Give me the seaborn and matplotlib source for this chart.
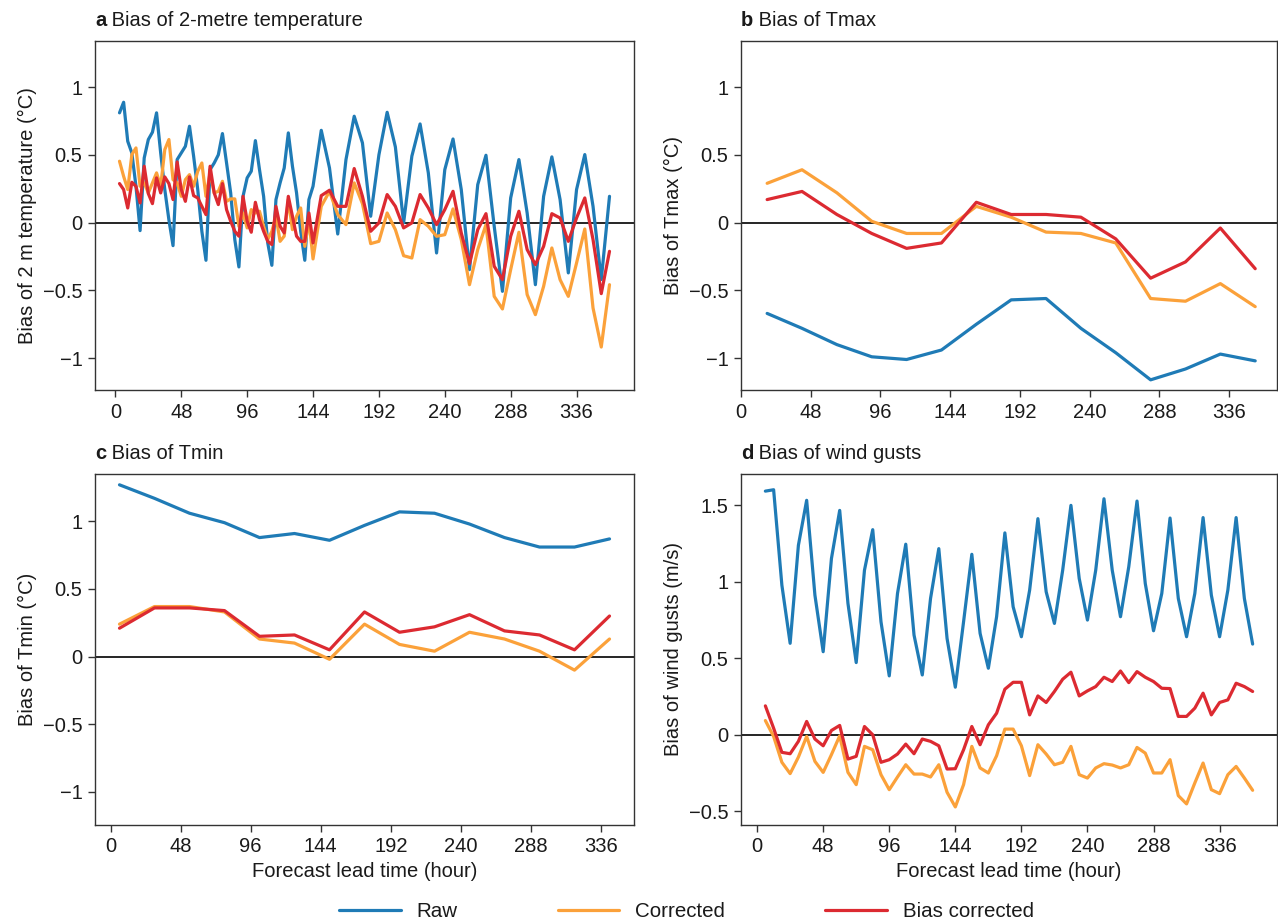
import numpy as np
import pandas as pd
import seaborn as sns
import matplotlib.pyplot as plt
from matplotlib.lines import Line2D
from matplotlib.ticker import FuncFormatter

series_names = ['Raw', 'Corrected', 'Bias corrected']
palette = {'Raw': '#1f7bb6', 'Corrected': '#fba13a', 'Bias corrected': '#dc2a31'}

# 2-metre temperature: 3-hourly to 144 h, then 6-hourly
hours_t2m = list(range(3, 145, 3)) + list(range(150, 361, 6))
t2m_raw = [0.81, 0.888, 0.60, 0.514, 0.268, -0.059, 0.477, 0.613, 0.667, 0.81,
           0.514, 0.244, 0.02, -0.17, 0.465, 0.514, 0.563, 0.711, 0.49, 0.244,
           -0.064, -0.278, 0.391, 0.44, 0.50, 0.657, 0.44, 0.219, -0.125, -0.327,
           0.194, 0.33, 0.379, 0.605, 0.391, 0.194, -0.15, -0.315, 0.17, 0.293,
           0.403, 0.662, 0.416, 0.219, -0.064, -0.278, 0.17, 0.268,
           0.681, 0.403, -0.084, 0.465, 0.785, 0.588, 0.047, 0.50, 0.814, 0.558,
           -0.002, 0.49, 0.728, 0.367, -0.224, 0.391, 0.617, 0.244, -0.347, 0.28,
           0.497, -0.027, -0.507, 0.182, 0.465, 0.071, -0.458, 0.194, 0.485, 0.17,
           -0.371, 0.244, 0.502, 0.12, -0.42, 0.194]
t2m_corr = [0.453, 0.342, 0.244, 0.502, 0.551, 0.268, 0.293, 0.219, 0.293, 0.367,
            0.268, 0.539, 0.613, 0.317, 0.293, 0.194, 0.317, 0.354, 0.268, 0.379,
            0.44, 0.194, 0.367, 0.219, 0.231, 0.305, 0.157, 0.175, 0.175, -0.027,
            0.071, -0.039, 0.096, 0.071, 0.084, -0.027, -0.125, -0.064, 0.047, -0.138,
            -0.1, 0.17, -0.052, 0.047, 0.108, -0.175, 0.022, -0.268,
            0.12, 0.231, 0.059, -0.015, 0.293, 0.14, -0.155, -0.138, 0.071, -0.052,
            -0.244, -0.261, 0.022, -0.027, -0.101, -0.089, 0.101, -0.125, -0.458, -0.199,
            -0.015, -0.544, -0.637, -0.347, -0.071, -0.531, -0.679, -0.47, -0.187, -0.421,
            -0.544, -0.298, -0.047, -0.63, -0.918, -0.458]
t2m_bias = [0.288, 0.244, 0.108, 0.298, 0.268, 0.145, 0.416, 0.214, 0.14, 0.33,
            0.219, 0.337, 0.288, 0.17, 0.448, 0.244, 0.157, 0.337, 0.199, 0.182,
            0.12, 0.059, 0.416, 0.219, 0.133, 0.288, 0.096, 0.01, -0.064, -0.1,
            0.194, 0.01, -0.071, 0.15, 0.022, -0.064, -0.138, -0.162, 0.12, -0.027,
            -0.076, 0.194, 0.047, -0.1, -0.138, -0.138, 0.071, -0.15,
            0.199, 0.239, 0.12, 0.12, 0.399, 0.194, -0.064, -0.002, 0.207, 0.12,
            -0.039, -0.002, 0.207, 0.108, -0.015, 0.096, 0.231, -0.076, -0.303, -0.052,
            0.066, -0.322, -0.421, -0.101, 0.084, -0.199, -0.31, -0.175, 0.066, 0.034,
            -0.138, 0.034, 0.182, -0.125, -0.524, -0.212]

# Tmax (daily)
hours_tmax = list(range(18, 355, 24))
tmax_raw = [-0.67, -0.78, -0.90, -0.99, -1.01, -0.94, -0.75, -0.57, -0.56, -0.78,
            -0.96, -1.16, -1.08, -0.97, -1.02]
tmax_corr = [0.29, 0.39, 0.22, 0.01, -0.08, -0.08, 0.12, 0.04, -0.07, -0.08,
             -0.15, -0.56, -0.58, -0.45, -0.62]
tmax_bias = [0.17, 0.23, 0.06, -0.08, -0.19, -0.15, 0.15, 0.06, 0.06, 0.04,
             -0.12, -0.41, -0.29, -0.04, -0.34]

# Tmin (daily)
hours_tmin = list(range(6, 343, 24))
tmin_raw = [1.27, 1.17, 1.06, 0.99, 0.88, 0.91, 0.86, 0.97, 1.07, 1.06,
            0.98, 0.88, 0.81, 0.81, 0.87]
tmin_corr = [0.24, 0.37, 0.37, 0.33, 0.13, 0.10, -0.02, 0.24, 0.09, 0.04,
             0.18, 0.13, 0.04, -0.10, 0.13]
tmin_bias = [0.21, 0.36, 0.36, 0.34, 0.15, 0.16, 0.05, 0.33, 0.18, 0.22,
             0.31, 0.19, 0.16, 0.05, 0.30]

# wind gusts, 6-hourly
hours_gust = list(range(6, 361, 6))
gust_raw = [1.593, 1.602, 0.978, 0.598, 1.239, 1.533, 0.913, 0.543, 1.152, 1.467,
            0.859, 0.472, 1.076, 1.341, 0.739, 0.385, 0.924, 1.246, 0.652, 0.391,
            0.891, 1.217, 0.630, 0.311, 0.739, 1.180, 0.663, 0.435, 0.772, 1.320,
            0.837, 0.641, 0.946, 1.413, 0.935, 0.728, 1.076, 1.500, 1.022, 0.750,
            1.076, 1.543, 1.076, 0.772, 1.098, 1.528, 0.989, 0.680, 0.924, 1.417,
            0.891, 0.641, 0.924, 1.420, 0.913, 0.641, 0.946, 1.420, 0.891, 0.593]
gust_corr = [0.093, -0.011, -0.180, -0.254, -0.146, -0.011, -0.174, -0.246, -0.130, -0.007,
             -0.246, -0.326, -0.076, -0.098, -0.261, -0.359, -0.276, -0.196, -0.257, -0.257,
             -0.276, -0.196, -0.376, -0.472, -0.326, -0.076, -0.217, -0.250, -0.137, 0.037,
             0.037, -0.072, -0.267, -0.065, -0.126, -0.196, -0.180, -0.076, -0.261, -0.283,
             -0.217, -0.189, -0.198, -0.217, -0.196, -0.083, -0.120, -0.250, -0.250, -0.163,
             -0.398, -0.452, -0.315, -0.185, -0.359, -0.385, -0.261, -0.207, -0.283, -0.363]
gust_bias = [0.189, 0.043, -0.115, -0.124, -0.043, 0.087, -0.028, -0.072, 0.028, 0.061,
             -0.159, -0.141, 0.054, 0.000, -0.180, -0.163, -0.126, -0.061, -0.124, -0.028,
             -0.043, -0.072, -0.224, -0.222, -0.098, 0.054, -0.065, 0.065, 0.141, 0.298,
             0.343, 0.343, 0.130, 0.254, 0.211, 0.283, 0.363, 0.409, 0.254, 0.287,
             0.315, 0.376, 0.348, 0.417, 0.341, 0.413, 0.376, 0.348, 0.304, 0.302,
             0.120, 0.120, 0.174, 0.272, 0.130, 0.211, 0.228, 0.337, 0.315, 0.283]

x_ticks = [0, 48, 96, 144, 192, 240, 288, 336]
temp_ticks = [-1, -0.5, 0, 0.5, 1]
gust_ticks = [-0.5, 0, 0.5, 1, 1.5]

FS = 14.5


def long_frame(hours, raw, corr, bias):
    return pd.DataFrame({
        'hour': hours * 3,
        'bias': raw + corr + bias,
        'series': [name for name in series_names for _ in hours],
    })


def fmt(v, pos):
    return f'{v:g}'.replace('-', '\u2212')


sns.set_theme(style='ticks')
plt.rcParams['font.family'] = ['Liberation Sans', 'DejaVu Sans']
plt.rcParams['axes.edgecolor'] = '#333333'
plt.rcParams['axes.linewidth'] = 1.0
plt.rcParams['xtick.color'] = '#333333'
plt.rcParams['ytick.color'] = '#333333'
plt.rcParams['xtick.labelcolor'] = '#1a1a1a'
plt.rcParams['ytick.labelcolor'] = '#1a1a1a'
plt.rcParams['text.color'] = '#1a1a1a'
plt.rcParams['axes.labelcolor'] = '#1a1a1a'

W, H = 1278, 924
fig = plt.figure(figsize=(W / 100, H / 100), dpi=100)

panels = [
    # letter, title, ylabel, frame, yticks, ylim, xlim, rect(px: left, top, right, bottom)
    ('a', 'Bias of 2-metre temperature', 'Bias of 2 m temperature (°C)',
     long_frame(hours_t2m, t2m_raw, t2m_corr, t2m_bias), temp_ticks, (-1.235, 1.34), None,
     (95, 41, 634, 390)),
    ('b', 'Bias of Tmax', 'Bias of Tmax (°C)',
     long_frame(hours_tmax, tmax_raw, tmax_corr, tmax_bias), temp_ticks, (-1.235, 1.34), (0, 369),
     (741, 41, 1277, 390)),
    ('c', 'Bias of Tmin', 'Bias of Tmin (°C)',
     long_frame(hours_tmin, tmin_raw, tmin_corr, tmin_bias), temp_ticks, (-1.245, 1.35), None,
     (95, 474, 634, 825)),
    ('d', 'Bias of wind gusts', 'Bias of wind gusts (m/s)',
     long_frame(hours_gust, gust_raw, gust_corr, gust_bias), gust_ticks, (-0.59, 1.705), None,
     (741, 474, 1277, 825)),
]

for letter, title, ylabel, df, yticks, ylim, xlim, (l, t, r, b) in panels:
    ax = fig.add_axes([l / W, (H - b) / H, (r - l) / W, (b - t) / H])
    ax.axhline(0, color='black', lw=1.2, zorder=1)
    sns.lineplot(data=df, x='hour', y='bias', hue='series', hue_order=series_names,
                 palette=palette, lw=2.3, legend=False, errorbar=None, ax=ax, zorder=2)
    if xlim is not None:
        ax.set_xlim(*xlim)
    ax.set_ylim(*ylim)
    ax.set_xticks(x_ticks)
    ax.set_yticks(yticks)
    ax.yaxis.set_major_formatter(FuncFormatter(fmt))
    ax.tick_params(direction='out', length=5, width=1, labelsize=FS, pad=4)
    for side in ['top', 'right', 'left', 'bottom']:
        ax.spines[side].set_visible(True)
    ax.set_ylabel(ylabel, fontsize=FS)
    if letter in ('c', 'd'):
        ax.set_xlabel('Forecast lead time (hour)', fontsize=FS)
    else:
        ax.set_xlabel('')
    lt = ax.annotate(letter, xy=(0, 1), xycoords='axes fraction', xytext=(0, 8),
                     textcoords='offset points', fontsize=FS, weight='bold',
                     ha='left', va='bottom')
    ax.annotate(' ' + title, xy=(1, 0), xycoords=lt, fontsize=FS, ha='left', va='bottom')

handles = [Line2D([0], [0], color=palette[n], lw=2.3) for n in series_names]
fig.legend(handles, series_names, loc='center', bbox_to_anchor=(0.537, 0.013), ncol=3,
           frameon=False, fontsize=14.8, handlelength=3.0, handletextpad=0.75,
           columnspacing=4.9)

fig.savefig('out.png', dpi=100)
